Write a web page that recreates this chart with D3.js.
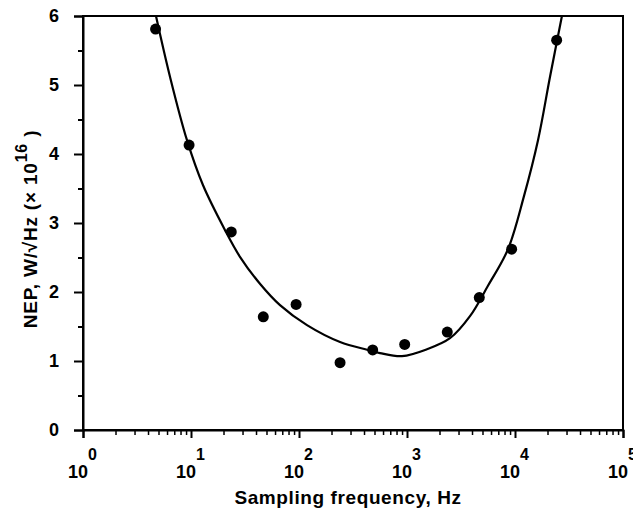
<!DOCTYPE html>
<html>
<head>
<meta charset="utf-8">
<script src="https://cdn.jsdelivr.net/npm/d3@7"></script>
<style>
  body { margin: 0; background: #fff; }
  text { font-family: "Liberation Sans", Arial, sans-serif; font-weight: bold; fill: #000; }
</style>
</head>
<body>
<div id="chart"></div>
<script>
// measured points: sampling frequency (Hz) and NEP (x 1e-16 W/sqrt(Hz))
const freqs = [4.7, 9.6, 23.6, 46.7, 94, 240, 481, 952, 2360, 4670, 9310, 24300];
const nep = [5.81, 4.13, 2.87, 1.64, 1.82, 0.975, 1.16, 1.24, 1.42, 1.92, 2.62, 5.65];

// fitted curve
const curveFreqs = [4.74, 6.39, 9.18, 12.9, 20.6, 28.4, 43.5, 66.7, 118.6, 240, 435, 562, 899, 1531, 2500, 3830, 5620, 8610, 12110, 16330, 21100, 27200];
const curveNep = [6.0, 5.12, 4.20, 3.55, 2.90, 2.51, 2.12, 1.81, 1.52, 1.275, 1.16, 1.115, 1.07, 1.17, 1.33, 1.65, 2.09, 2.62, 3.39, 4.20, 5.12, 6.0];

const xMajor = [1, 10, 100, 1000, 10000, 100000];
const yMajor = [0, 1, 2, 3, 4, 5, 6];
const yMinor = [0.5, 1.5, 2.5, 3.5, 4.5, 5.5];

const W = 633, H = 514;
const margin = {top: 16, right: 10, bottom: 84, left: 83};
const width = W - margin.left - margin.right;
const height = H - margin.top - margin.bottom;

const svg = d3.select("#chart").append("svg")
    .attr("width", W)
    .attr("height", H);

const g = svg.append("g")
    .attr("transform", `translate(${margin.left},${margin.top})`);

const x = d3.scaleLog().domain([1, 1e5]).range([0, width]);
const y = d3.scaleLinear().domain([0, 6]).range([height, 0]);

// minor x ticks: 2..9 in each decade
const xMinor = [];
xMajor.slice(0, -1).forEach(d => {
    for (let k = 2; k <= 9; k++) xMinor.push(d * k);
});

// frame
g.append("rect")
    .attr("width", width)
    .attr("height", height)
    .attr("fill", "none")
    .attr("stroke", "#000")
    .attr("stroke-width", 2);

// y axis
const yAxis = g.append("g")
    .call(d3.axisLeft(y).tickValues(yMajor).tickSize(9).tickPadding(15).tickFormat(d3.format("d")));
yAxis.select(".domain").attr("stroke-width", 2);
yAxis.selectAll(".tick line").attr("stroke-width", 2);
yAxis.selectAll(".tick text")
    .style("font-size", "18px")
    .style("font-family", "'Liberation Sans', Arial, sans-serif")
    .style("font-weight", "bold");

g.append("g")
    .call(d3.axisLeft(y).tickValues(yMinor).tickSize(5).tickFormat(""))
    .call(s => s.select(".domain").remove())
    .selectAll(".tick line").attr("stroke-width", 2);

// x axis
const xAxis = g.append("g")
    .attr("transform", `translate(0,${height})`)
    .call(d3.axisBottom(x).tickValues(xMajor).tickSize(8).tickFormat(""));
xAxis.select(".domain").attr("stroke-width", 2);
xAxis.selectAll(".tick line").attr("stroke-width", 2);

g.append("g")
    .attr("transform", `translate(0,${height})`)
    .call(d3.axisBottom(x).tickValues(xMinor).tickSize(5).tickFormat(""))
    .call(s => s.select(".domain").remove())
    .selectAll(".tick line").attr("stroke-width", 1.5);

// x tick labels as 10 with superscript exponent
const xLab = g.append("g").selectAll("g")
    .data(xMajor)
    .join("g")
    .attr("transform", d => `translate(${x(d)},${height})`);
xLab.append("text")
    .attr("x", -5)
    .attr("y", 48)
    .attr("text-anchor", "middle")
    .style("font-size", "18px")
    .text("10");
xLab.append("text")
    .attr("x", 5)
    .attr("y", 30)
    .attr("text-anchor", "start")
    .style("font-size", "16px")
    .text(d => Math.round(Math.log10(d)));

// axis titles
g.append("text")
    .attr("x", width / 2 - 5)
    .attr("y", height + 74)
    .attr("text-anchor", "middle")
    .style("font-size", "19px")
    .style("letter-spacing", "0.6px")
    .text("Sampling frequency, Hz");

const yt = svg.append("text")
    .attr("transform", "translate(37,229) rotate(-90)")
    .attr("text-anchor", "middle")
    .style("font-size", "19px")
    .style("letter-spacing", "0.8px");
yt.append("tspan").text("NEP, W/\u221AHz (\u00D7 10");
yt.append("tspan").attr("dy", -10).style("font-size", "16px").text("16");
yt.append("tspan").attr("dy", 10).text(" )");

// clip for fitted curve
svg.append("clipPath").attr("id", "plotClip")
    .append("rect").attr("width", width).attr("height", height);

const line = d3.line()
    .x((d, i) => x(curveFreqs[i]))
    .y(d => y(d))
    .curve(d3.curveCatmullRom.alpha(0.5));

g.append("path")
    .datum(curveNep)
    .attr("clip-path", "url(#plotClip)")
    .attr("fill", "none")
    .attr("stroke", "#000")
    .attr("stroke-width", 2.2)
    .attr("d", line);

// data points
g.selectAll(".dot")
    .data(nep)
    .join("circle")
    .attr("class", "dot")
    .attr("cx", (d, i) => x(freqs[i]))
    .attr("cy", d => y(d))
    .attr("r", 5.5)
    .attr("fill", "#000");
</script>
</body>
</html>
